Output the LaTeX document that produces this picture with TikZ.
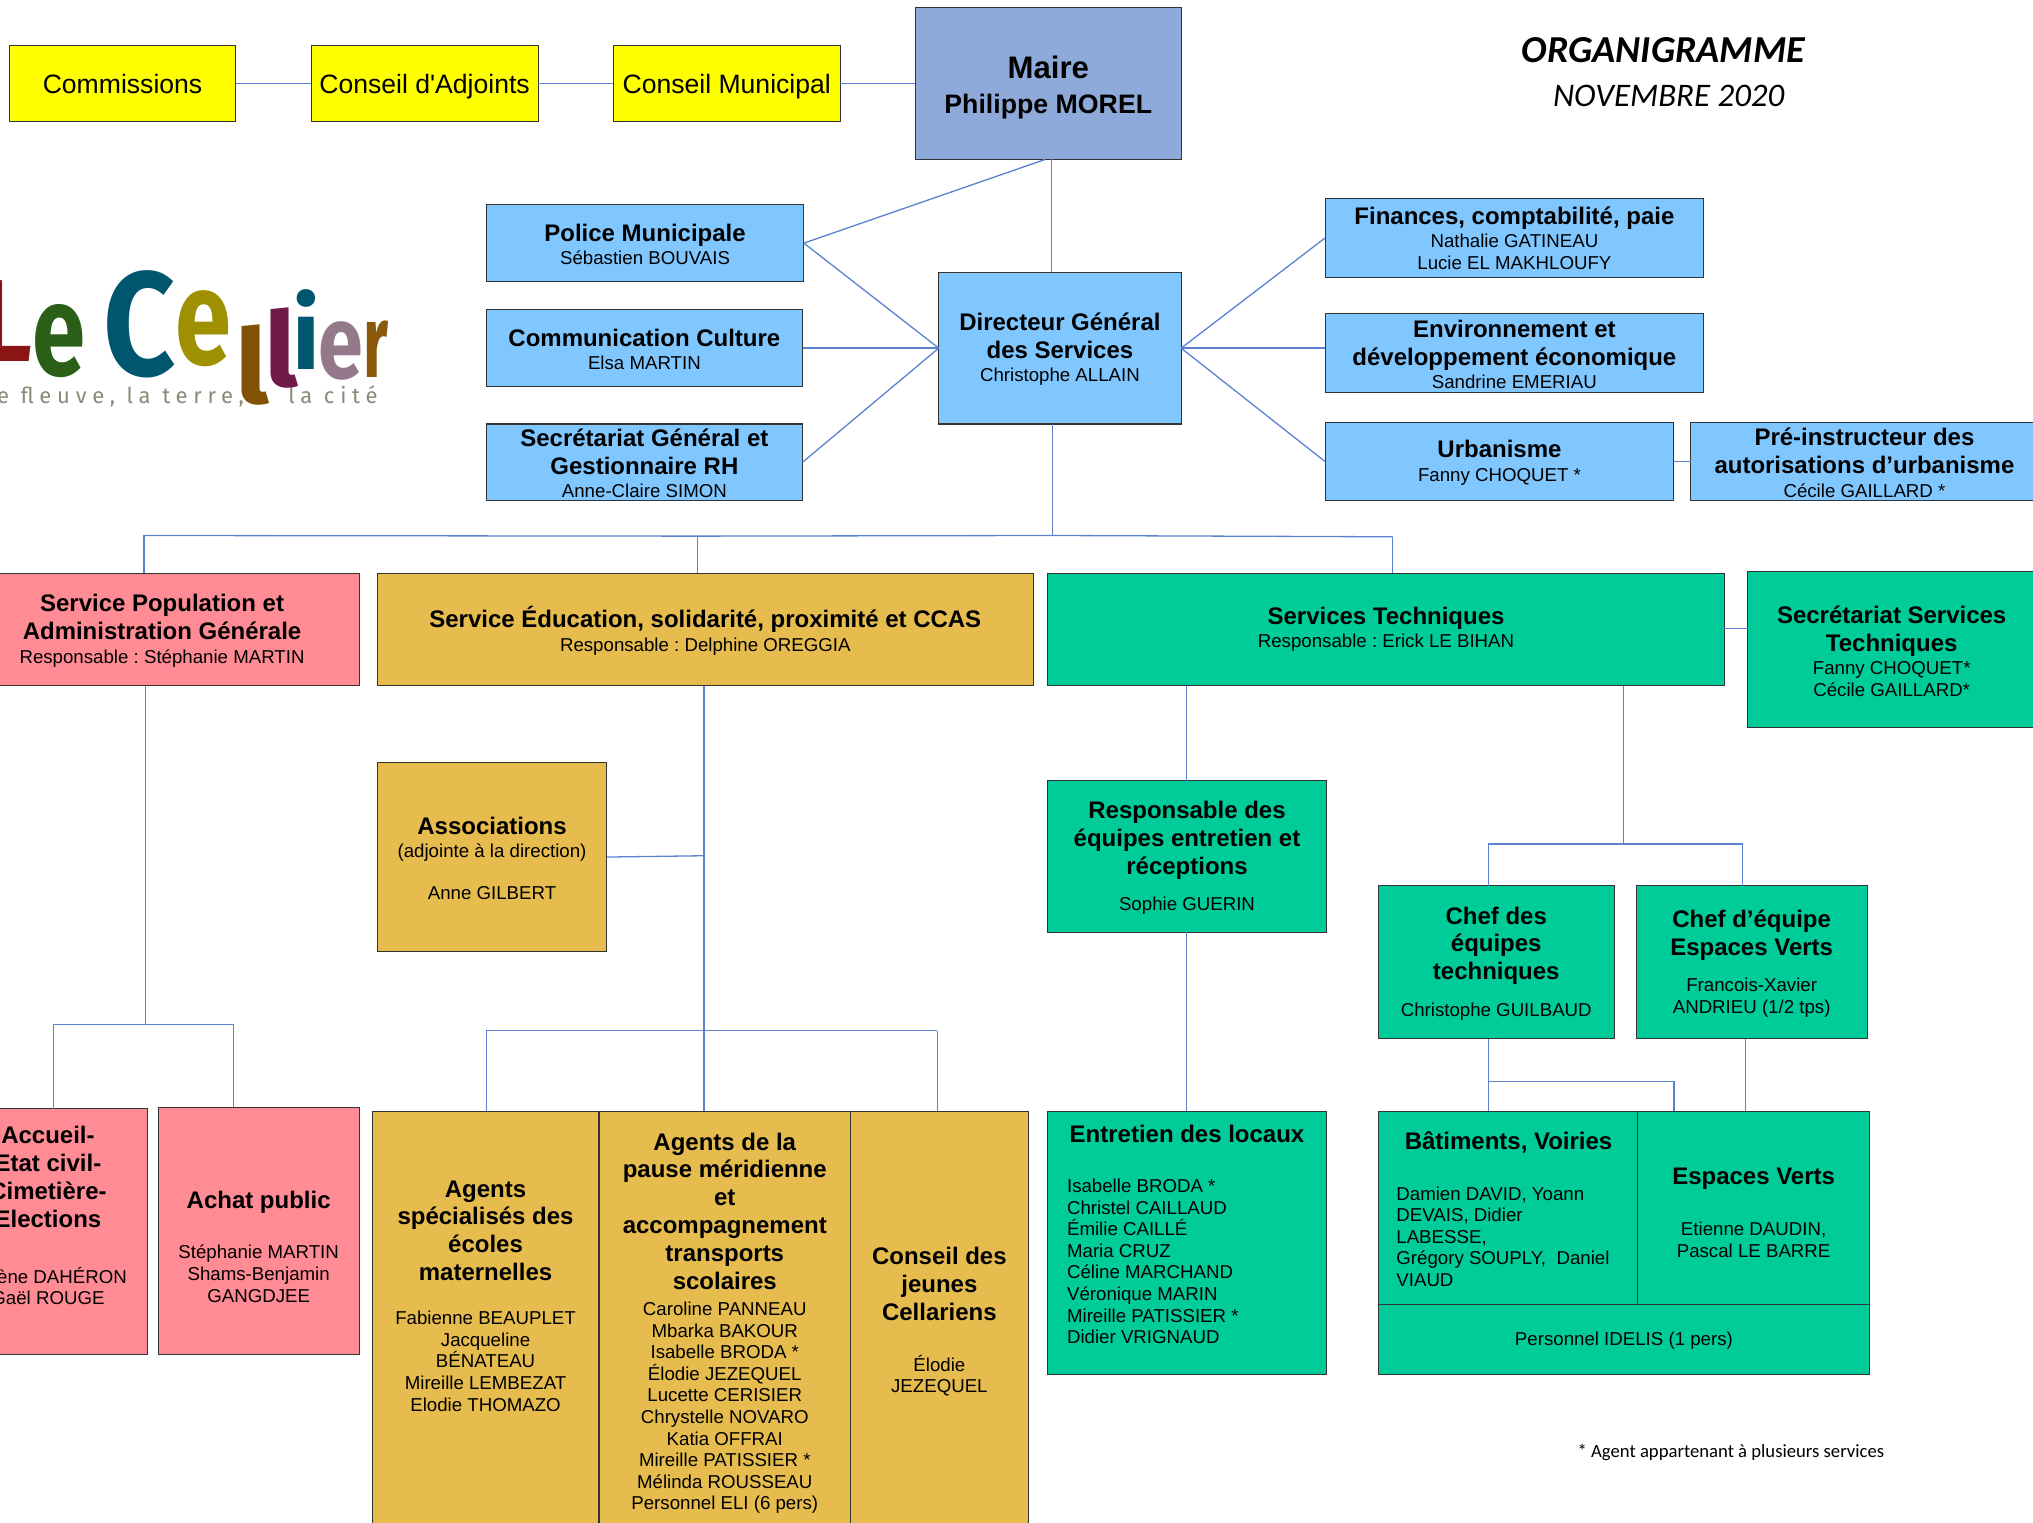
\documentclass[tikz,border=0pt]{standalone}
\usepackage{fontspec}
\usepackage{graphicx}
\setmainfont{Liberation Sans}
\newfontfamily\plainf{Liberation Sans}
\newfontfamily\calf{Carlito}
\newfontfamily\logof{Fira Sans}
\newfontfamily\tagf[LetterSpace=26]{Fira Sans}
\frenchspacing
\definecolor{cyel}{HTML}{FFFF00}
\definecolor{cmaire}{HTML}{8EAADB}
\definecolor{cblue}{HTML}{80C7FF}
\definecolor{cpink}{HTML}{FF8B94}
\definecolor{cgold}{HTML}{E6BC4E}
\definecolor{cgreen}{HTML}{00CC99}
\definecolor{cline}{HTML}{5B82CF}
\definecolor{cedge}{HTML}{333333}
\definecolor{lred}{HTML}{8B1414}
\definecolor{lgreen}{HTML}{2B5F18}
\definecolor{lteal}{HTML}{00566F}
\definecolor{lolive}{HTML}{9E9000}
\definecolor{lbrown}{HTML}{7F5205}
\definecolor{lpurple}{HTML}{701A4A}
\definecolor{lmauve}{HTML}{93798A}
\definecolor{lbrownb}{HTML}{8A5A0A}
\definecolor{lgrey}{HTML}{8A8A78}
\tikzset{
  boxnode/.style={draw=cedge,line width=0.4pt,inner sep=0pt,outer sep=0pt,anchor=center},
  conn/.style={draw=cline,line width=0.5pt},
  logoletter/.style={inner sep=0pt,outer sep=0pt,anchor=base},
}
\newcommand\hd[1]{{\fontsize{9.25}{10.75}\selectfont\bfseries #1\par}\vspace{0.7pt}}
\newcommand\nm[1]{{\fontsize{7.2}{8.33}\selectfont #1\par}}
\newcommand\lf[2]{{\raggedright\leftskip=#1pt\fontsize{7.2}{8.3}\selectfont #2\par}}
\newcommand\gap[1]{\vspace{#1pt}}
\newcommand\logol[4]{\scalebox{#3}[1]{\logof\bfseries\fontsize{#1}{#1}\selectfont\textcolor{#2}{#4}}}
\newcommand\bx[8]{%
  \pgfmathsetlengthmacro\bw{(#4-#2)*0.5}%
  \pgfmathsetlengthmacro\bh{(#5-#3)*0.5}%
  \pgfmathsetlengthmacro\ry{-(#7)*0.5-2.5}%
  \node[boxnode,fill=#6,minimum width=\bw,minimum height=\bh] (#1) at ({(#2+#4)/2},{(#3+#5)/2})
    {\raisebox{\ry}[0pt][0pt]{\parbox[c]{\bw}{\centering #8}}};}
\begin{document}
\begin{tikzpicture}[x=0.5pt,y=-0.5pt]
\useasboundingbox (0,0) rectangle (1568,1174.6);
\clip (0,0) rectangle (1568,1174.6);
% boxes
\bx{comm}{7}{35}{182}{94}{cyel}{0}{{\fontsize{10.25}{12}\selectfont Commissions\par}}
\bx{cadj}{240}{35}{415}{94}{cyel}{2}{{\plainf\fontsize{10.25}{12}\selectfont Conseil d'Adjoints\par}}
\bx{cmun}{473}{35}{648}{94}{cyel}{2}{{\fontsize{10.25}{12}\selectfont Conseil Municipal\par}}
\bx{maire}{706}{6}{911}{123}{cmaire}{3}{{\fontsize{12}{13.2}\selectfont\bfseries Maire\par}{\fontsize{10.3}{13.2}\selectfont\bfseries Philippe MOREL\par}}
\bx{police}{375}{158}{620}{217}{cblue}{1}{\hd{Police Municipale}\nm{Sébastien BOUVAIS}}
\bx{commu}{375}{239}{619}{298}{cblue}{1}{\hd{Communication Culture}\nm{Elsa MARTIN}}
\bx{secr}{375}{327}{619}{386}{cblue}{1}{\hd{Secrétariat Général et\\Gestionnaire RH}\nm{Anne-Claire SIMON}}
\bx{dg}{724}{210}{911}{327}{cblue}{1}{\hd{Directeur Général\\des Services}\nm{Christophe ALLAIN}}
\bx{fin}{1022}{153}{1314}{214}{cblue}{0}{\hd{Finances, comptabilité, paie}\nm{Nathalie GATINEAU\\Lucie EL MAKHLOUFY}}
\bx{env}{1022}{242}{1314}{303}{cblue}{1}{\hd{Environnement et\\développement économique}\nm{Sandrine EMERIAU}}
\bx{urba}{1022}{326}{1291}{386}{cblue}{1}{\hd{Urbanisme}\nm{Fanny CHOQUET *}}
\bx{pre}{1304}{326}{1572}{386}{cblue}{1}{\hd{Pré-instructeur des\\autorisations d’urbanisme}\nm{Cécile GAILLARD *}}
\bx{pop}{-27}{442}{277}{529}{cpink}{1}{\hd{Service Population et\\Administration Générale}\nm{Responsable : Stéphanie MARTIN}}
\bx{edu}{291}{442}{797}{529}{cgold}{1}{\hd{Service Éducation, solidarité, proximité et CCAS}\nm{Responsable : Delphine OREGGIA}}
\bx{st}{808}{442}{1330}{529}{cgreen}{0}{\hd{Services Techniques}\nm{Responsable : Erick LE BIHAN}}
\bx{sst}{1348}{441}{1570}{561}{cgreen}{1}{\hd{Secrétariat Services\\Techniques}\nm{Fanny CHOQUET*\\Cécile GAILLARD*}}
\bx{assoc}{291}{588}{468}{734}{cgold}{1}{\hd{Associations}\nm{(adjointe à la direction)}\gap{8}\nm{Anne GILBERT}}
\bx{resp}{808}{602}{1023}{719}{cgreen}{1}{\hd{Responsable des\\équipes entretien et\\réceptions}\gap{5}\nm{Sophie GUERIN}}
\bx{chef}{1063}{683}{1245}{801}{cgreen}{1}{\hd{Chef des\\équipes\\techniques}\gap{5}\nm{Christophe GUILBAUD}}
\bx{chefev}{1262}{683}{1440}{801}{cgreen}{1}{\hd{Chef d’équipe\\Espaces Verts}\gap{5}\nm{Francois-Xavier\\ANDRIEU (1/2 tps)}}
\bx{acc}{-40}{855}{114}{1045}{cpink}{-12.5}{\hd{Accueil-\\Etat civil-\\Cimetière-\\Elections}\gap{12.5}\nm{Hélène DAHÉRON\\Gaël ROUGE}}
\bx{achat}{122}{854}{277}{1045}{cpink}{12}{\hd{Achat public}\gap{10.5}\nm{Stéphanie MARTIN\\Shams-Benjamin\\GANGDJEE}}
\bx{ag}{287}{857}{462}{1190}{cgold}{-24}{\hd{Agents\\spécialisés des\\écoles\\maternelles}\gap{8}\nm{Fabienne BEAUPLET\\Jacqueline\\BÉNATEAU\\Mireille LEMBEZAT\\Elodie THOMAZO}}
\bx{pause}{462}{857}{656}{1190}{cgold}{-3}{\hd{Agents de la\\pause méridienne\\et\\accompagnement\\transports\\scolaires}\gap{1}\nm{Caroline PANNEAU\\Mbarka BAKOUR\\Isabelle BRODA *\\Élodie JEZEQUEL\\Lucette CERISIER\\Chrystelle NOVARO\\Katia OFFRAI\\Mireille PATISSIER *\\Mélinda ROUSSEAU\\Personnel ELI (6 pers)}}
\bx{cons}{656}{857}{793}{1190}{cgold}{-4}{\hd{Conseil des\\jeunes\\Cellariens}\gap{10.5}\nm{Élodie\\JEZEQUEL}}
\bx{ent}{808}{857}{1023}{1060}{cgreen}{-6.5}{\hd{Entretien des locaux}\gap{10.5}\lf{7.5}{Isabelle BRODA *\\Christel CAILLAUD\\Émilie CAILLÉ\\Maria CRUZ\\Céline MARCHAND\\Véronique MARIN\\Mireille PATISSIER *\\Didier VRIGNAUD}}
\bx{bat}{1063}{857}{1264}{1006}{cgreen}{1}{\hd{Bâtiments, Voiries}\gap{10.5}\lf{7}{Damien DAVID, Yoann\\DEVAIS, Didier\\LABESSE,\\Grégory SOUPLY,\ \ Daniel\\VIAUD}}
\bx{ev}{1263}{857}{1442}{1006}{cgreen}{4}{\hd{Espaces Verts}\gap{10.5}\nm{Etienne DAUDIN,\\Pascal LE BARRE}}
\bx{idelis}{1063}{1006}{1442}{1060}{cgreen}{1}{\nm{Personnel IDELIS (1 pers)}}
% junctions
\coordinate (jtopL) at (111,413);
\coordinate (jtopM) at (812,413);
\coordinate (jtopE) at (538,413.5);
\coordinate (jtopR) at (1074,414);
\coordinate (jpopL) at (41,790);
\coordinate (jpopM) at (112,790);
\coordinate (jpopR) at (180,790);
\coordinate (jeduL) at (375,795);
\coordinate (jeduM) at (543,795);
\coordinate (jeduR) at (723,795);
\coordinate (jassoc) at (543,660);
\coordinate (jstL) at (1148,651);
\coordinate (jstM) at (1252,651);
\coordinate (jstR) at (1344,651);
\coordinate (jchefM) at (1148,834);
\coordinate (jchefR) at (1291,834);
% connectors
\draw[conn] (comm.east) -- (cadj.west);
\draw[conn] (cadj.east) -- (cmun.west);
\draw[conn] (cmun.east) -- (maire.west);
\draw[conn] (806,0 |- maire.south) -- (police.east);
\draw[conn] (811,0 |- maire.south) -- (811,0 |- dg.north);
\draw[conn] (police.east) -- (dg.west);
\draw[conn] (commu.east) -- (dg.west);
\draw[conn] (secr.east) -- (dg.west);
\draw[conn] (dg.east) -- (fin.west);
\draw[conn] (dg.east) -- (env.west |- dg.east);
\draw[conn] (dg.east) -- (urba.west);
\draw[conn] (urba.east) -- (pre.west);
\draw[conn] (812,0 |- dg.south) -- (jtopM);
\draw[conn] (jtopL) -- (jtopE) -- (jtopM) -- (jtopR);
\draw[conn] (jtopL) -- (111,0 |- pop.north);
\draw[conn] (jtopE) -- (538,0 |- edu.north);
\draw[conn] (jtopR) -- (1074,0 |- st.north);
\draw[conn] (112,0 |- pop.south) -- (jpopM);
\draw[conn] (jpopL) -- (jpopR);
\draw[conn] (jpopL) -- (41,0 |- acc.north);
\draw[conn] (jpopR) -- (180,0 |- achat.north);
\draw[conn] (543,0 |- edu.south) -- (543,0 |- pause.north);
\draw[conn] (assoc.east) -- (jassoc);
\draw[conn] (jeduL) -- (jeduR);
\draw[conn] (jeduL) -- (375,0 |- ag.north);
\draw[conn] (jeduR) -- (723,0 |- cons.north);
\draw[conn] (st.east |- 0,485) -- (sst.west |- 0,485);
\draw[conn] (915,0 |- st.south) -- (915,0 |- resp.north);
\draw[conn] (915,0 |- resp.south) -- (915,0 |- ent.north);
\draw[conn] (1252,0 |- st.south) -- (jstM);
\draw[conn] (jstL) -- (jstR);
\draw[conn] (jstL) -- (1148,0 |- chef.north);
\draw[conn] (jstR) -- (1344,0 |- chefev.north);
\draw[conn] (1148,0 |- chef.south) -- (1148,0 |- bat.north);
\draw[conn] (jchefM) -- (jchefR) -- (1291,0 |- ev.north);
\draw[conn] (1346,0 |- chefev.south) -- (1346,0 |- ev.north);
% titles
\node[inner sep=0pt] (ttitle) at (1283,39) {\calf\itshape\bfseries\fontsize{14.7}{18}\selectfont ORGANIGRAMME};
\node[inner sep=0pt] (tdate) at (1287,74) {\calf\itshape\fontsize{12.7}{16}\selectfont NOVEMBRE 2020};
\node[inner sep=0pt] (tnote) at (1335,1120.5) {\calf\fontsize{7.2}{9}\selectfont * Agent appartenant à plusieurs services};
% logo
\node[inner sep=0pt,anchor=base west] (lgt) at (-15,311) {\tagf\fontsize{8.5}{9}\selectfont\textcolor{lgrey}{Le fleuve, la terre,}};
\node[inner sep=0pt,anchor=base west] (lgu) at (222,311) {\tagf\fontsize{8.5}{9}\selectfont\textcolor{lgrey}{la cité}};
\node[logoletter,anchor=base east] (lgL) at (25,279) {\logol{45}{lred}{0.9}{L}};
\node[logoletter] (lge) at (45.5,289.5) {\logol{50}{lgreen}{0.74}{e}};
\node[logoletter] (lgC) at (108,289.5) {\logol{57}{lteal}{0.85}{C}};
\node[logoletter] (lgf) at (157,281) {\logol{52}{lolive}{0.75}{e}};
\node[logoletter] (lgl) at (194.6,311) {\logol{40}{lbrown}{1.1}{l}};
\node[logoletter] (lgm) at (217,297.7) {\logol{40}{lpurple}{1.1}{l}};
\node[logoletter] (lgi) at (236.5,284.6) {\logol{38}{lteal}{1}{i}};
\node[logoletter] (lgn) at (263,292) {\logol{40}{lmauve}{0.78}{e}};
\node[logoletter] (lgr) at (290,291.5) {\logol{40}{lbrownb}{0.6}{r}};
\end{tikzpicture}
\end{document}
